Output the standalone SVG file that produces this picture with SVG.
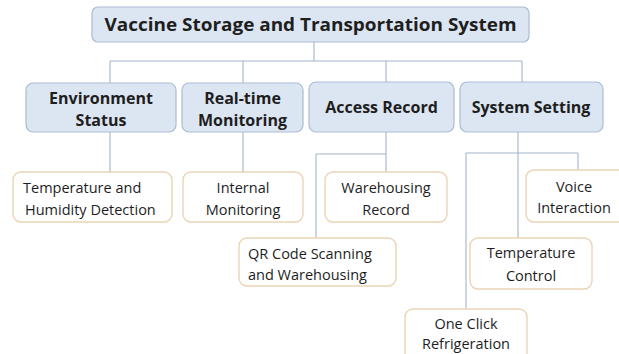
<svg xmlns="http://www.w3.org/2000/svg" width="619" height="354" viewBox="0 0 619 354">
<style>
.blue{fill:#dce6f2;stroke:#a9bcd4;stroke-width:1.2}
.leaf{fill:#ffffff;stroke:#ebd3b5;stroke-width:1.4}
.c{fill:none;stroke:#a3b6ca;stroke-width:1.1}
text{font-family:"Open Sans","Liberation Sans",sans-serif;fill:#1e1e1e}
.b{font-weight:bold;font-size:16px;text-anchor:middle}
.r{font-size:14.5px}
.m{text-anchor:middle}
</style>
<rect width="619" height="354" fill="#ffffff"/>
<g id="connectors">
<path class="c" d="M314 42V61M110 61H522M110 61V83M243 61V83M386 61V82M522 61V82"/>
<path class="c" d="M110 132V172M243 132V172"/>
<path class="c" d="M386 132V172M316 154H386M316 154V238"/>
<path class="c" d="M518 132V238M466 153H578M466 153V309M578 153V170"/>
</g>
<g id="root">
<rect class="blue" x="92" y="7" width="437" height="35" rx="6"/>
<text x="310.5" y="31" style="font-weight:bold;font-size:18.5px;text-anchor:middle" textLength="412" lengthAdjust="spacingAndGlyphs">Vaccine Storage and Transportation System</text>
</g>
<g id="env">
<rect class="blue" x="26" y="83" width="150" height="49" rx="7"/>
<text class="b" x="101" y="104">Environment</text>
<text class="b" x="101" y="126">Status</text>
</g>
<g id="realtime">
<rect class="blue" x="182" y="83" width="121" height="49" rx="7"/>
<text class="b" x="242.5" y="104">Real-time</text>
<text class="b" x="242.5" y="126">Monitoring</text>
</g>
<g id="access">
<rect class="blue" x="309" y="82" width="145" height="50" rx="7"/>
<text class="b" x="381.5" y="113">Access Record</text>
</g>
<g id="system">
<rect class="blue" x="460" y="82" width="143" height="50" rx="7"/>
<text class="b" x="531" y="113">System Setting</text>
</g>
<g id="temphum">
<rect class="leaf" x="13" y="172" width="159" height="50" rx="8"/>
<text class="r" x="23" y="193">Temperature and</text>
<text class="r" x="25" y="215">Humidity Detection</text>
</g>
<g id="internal">
<rect class="leaf" x="183" y="172" width="120" height="50" rx="8"/>
<text class="r m" x="243" y="193">Internal</text>
<text class="r m" x="243" y="215">Monitoring</text>
</g>
<g id="warehousing">
<rect class="leaf" x="325" y="172" width="122" height="50" rx="8"/>
<text class="r m" x="386" y="193">Warehousing</text>
<text class="r m" x="386" y="215">Record</text>
</g>
<g id="voice">
<rect class="leaf" x="526" y="170" width="100" height="52" rx="8"/>
<text class="r m" x="574" y="192">Voice</text>
<text class="r m" x="574" y="213">Interaction</text>
</g>
<g id="qr">
<rect class="leaf" x="239" y="238" width="157" height="48" rx="8"/>
<text class="r" x="248" y="259">QR Code Scanning</text>
<text class="r" x="248" y="280">and Warehousing</text>
</g>
<g id="tempctrl">
<rect class="leaf" x="470" y="238" width="122" height="51" rx="8"/>
<text class="r m" x="531" y="258">Temperature</text>
<text class="r m" x="531" y="281">Control</text>
</g>
<g id="oneclick">
<rect class="leaf" x="405" y="309" width="122" height="52" rx="8"/>
<text class="r m" x="466" y="329">One Click</text>
<text class="r m" x="466" y="349">Refrigeration</text>
</g>
</svg>
